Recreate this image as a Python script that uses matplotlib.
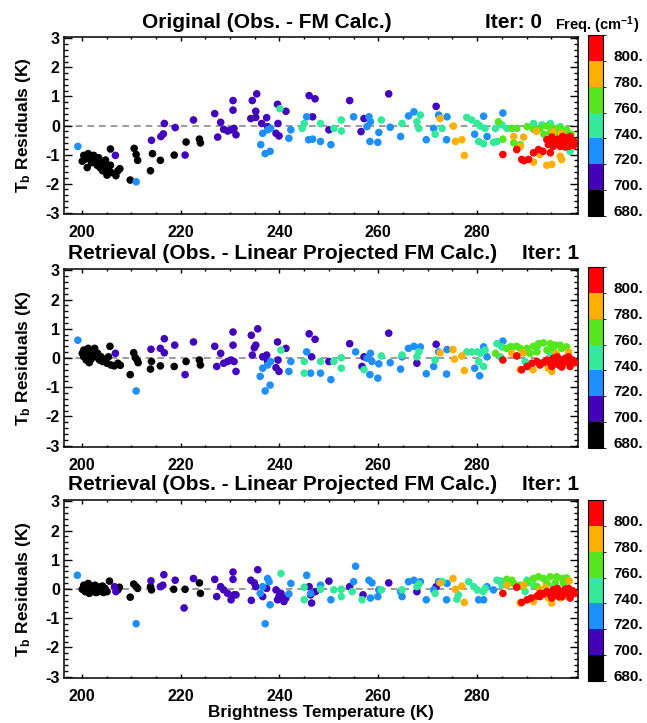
import matplotlib
matplotlib.use("Agg")
import matplotlib.pyplot as plt
from matplotlib.colors import ListedColormap, BoundaryNorm
from matplotlib.cm import ScalarMappable
from matplotlib.ticker import MultipleLocator, FixedLocator
import numpy as np

plt.rcParams['font.family'] = ['Liberation Sans', 'DejaVu Sans']
plt.rcParams['font.weight'] = 'bold'
plt.rcParams['axes.unicode_minus'] = False
plt.rcParams['mathtext.fontset'] = 'custom'
plt.rcParams['mathtext.rm'] = 'Liberation Sans:bold'
plt.rcParams['mathtext.bf'] = 'Liberation Sans:bold'
plt.rcParams['mathtext.default'] = 'bf'

# ---------------- data ----------------
FREQ_BOUNDS = [680, 700, 720, 740, 760, 780, 800, 820]
FREQ_TICKS = [680, 700, 720, 740, 760, 780, 800]
BIN_COLORS = ["#000000", "#4200bd", "#1e8fff", "#34e89c", "#55e61e", "#ffb000", "#ff0000"]
X_TICKS = [200, 220, 240, 260, 280]
Y_TICKS = [-3, -2, -1, 0, 1, 2, 3]

PANEL_TITLES = ["Original (Obs. - FM Calc.)",
                "Retrieval (Obs. - Linear Projected FM Calc.)",
                "Retrieval (Obs. - Linear Projected FM Calc.)"]
ITER_LABELS = ["Iter: 0", "Iter: 1", "Iter: 1"]

# Panel 1 : Original residuals, grouped by channel frequency (cm-1)
orig_temp = {
    690: [200.1, 200.4, 200.9, 201.3, 201.7, 202.0, 202.4, 202.8, 203.1, 203.4, 203.7, 203.9, 204.2, 204.6,
          204.8, 205.1, 205.4, 205.8, 205.9, 205.8, 206.9, 207.3, 207.7, 201.1,
          210.6, 211.0, 211.3, 209.8, 213.9, 214.3, 215.9, 218.7, 221.1, 223.8, 224.0],
    710: [206.8, 214.1, 216.0, 216.5, 216.7, 218.9, 220.9, 222.6, 226.9, 227.5, 228.1, 228.7, 229.5, 230.2,
          230.8, 231.2, 230.6, 230.6,
          234.5, 235.4, 234.2, 235.2, 235.2, 236.4, 237.4, 237.6, 239.6, 241.3, 239.3, 239.9, 239.7, 246.0,
          247.2, 246.7, 250.0,
          254.2, 262.1, 271.7, 257.1, 256.5],
    730: [199.2, 211.0, 236.2, 237.1, 238.1, 236.6, 237.6, 238.2, 242.3, 241.9, 245.5, 245.9, 246.7, 248.3, 250.4,
          255.0, 258.1, 258.4, 257.7, 258.3, 259.9, 260.1, 262.4, 264.5, 266.1, 267.2, 269.7, 271.2, 272.2,
          273.9, 273.8, 279.5, 281.3, 282.0, 285.2],
    750: [240.1, 245.0, 244.6, 248.3, 251.0, 252.5, 252.5, 260.6, 264.8, 267.8, 268.2, 268.5, 271.5, 272.9,
          277.9, 278.9, 280.0, 280.6, 281.6, 280.3, 281.3, 283.7, 285.0, 283.3, 284.0, 286.0,
          291.4, 293.1, 294.8, 296.8, 298.8],
    770: [284.3, 285.2, 287.0, 288.0, 290.1, 291.4, 292.7, 294.1, 295.4, 296.8, 298.1, 287.4, 288.7, 293.5,
          294.8, 296.2, 297.6, 299.0],
    790: [272.5, 275.2, 275.6, 276.9, 277.4, 287.4, 288.7, 289.4, 291.4, 292.7, 294.1, 295.1, 296.8, 297.1,
          292.0, 295.4, 297.1],
    810: [285.2, 288.0, 289.0, 289.5, 290.4, 291.4, 292.4, 293.3, 294.8,
          294.1, 294.8, 295.1, 295.8, 296.2, 296.7, 297.1, 297.6, 298.1, 298.7, 299.1, 299.6, 295.4, 296.8,
          297.8, 298.5, 294.4, 297.3, 298.8, 299.5],
}
orig_resid = {
    690: [-1.23, -1.03, -1.15, -0.97, -1.11, -1.28, -1.03, -1.23, -1.37, -1.11, -1.45, -1.28, -1.56, -1.40,
          -1.19, -1.71, -1.51, -1.37, -1.62, -0.81, -1.73, -1.56, -1.49, -1.45,
          -0.79, -1.00, -1.20, -1.88, -1.56, -0.97, -1.20, -1.02, -0.57, -0.47, -0.60],
    710: [-1.03, -0.51, -0.38, -0.29, 0.07, -0.07, -1.02, 0.19, 0.41, -0.40, 0.11, -0.13, -0.19, -0.15,
          -0.10, -0.32, 0.86, 0.53,
          0.86, 1.09, 0.24, 0.28, 0.49, 0.07, 0.27, -0.04, 0.73, 0.49, -0.27, -0.36, 0.07, 1.03,
          0.92, 0.30, -0.15,
          0.86, 1.09, 0.66, 0.24, -0.21],
    730: [-0.72, -1.94, -0.66, -0.97, -0.89, -0.27, -0.15, -0.10, -0.15, -0.44, 0.30, -0.49, -0.47, -0.55, -0.66,
          0.30, 0.30, 0.13, -0.04, -0.55, -0.58, -0.24, -0.06, -0.38, 0.33, 0.47, -0.49, -0.10, 0.36,
          0.30, -0.49, -0.30, 0.32, -0.38, 0.43],
    750: [0.58, 0.07, -0.10, 0.07, -0.10, 0.19, -0.19, 0.19, 0.07, 0.13, -0.10, 0.36, -0.30, -0.10,
          0.28, 0.19, 0.07, -0.02, -0.10, -0.55, -0.63, -0.10, 0.02, -0.58, -0.55, -0.10,
          0.07, 0.02, 0.07, -0.04, -0.89],
    770: [0.13, -0.47, -0.10, -0.10, -0.04, -0.13, -0.10, -0.02, -0.10, -0.10, -0.15, -0.60, -0.66, -0.30,
          -0.25, -0.22, -0.25, -0.30],
    790: [0.24, -0.02, -0.55, -0.49, -1.03, -0.38, -0.72, -0.40, -1.26, -1.00, -1.37, -1.34, -1.06, -1.17,
          -0.20, -0.22, -0.27],
    810: [-1.00, -0.83, -1.17, -1.21, -1.17, -0.94, -0.83, -0.89, -0.94,
          -0.49, -0.58, -0.40, -0.55, -0.47, -0.63, -0.49, -0.58, -0.44, -0.63, -0.49, -0.55, -0.72, -0.72,
          -0.74, -0.72, -0.66, -0.38, -0.38, -0.69],
}

# Panel 2 : Retrieval residuals
ret1_temp = {
    690: [200.1, 200.4, 200.7, 201.1, 201.3, 201.7, 201.9, 202.2, 202.6, 202.9, 203.2, 203.6, 203.9, 204.2,
          204.7, 205.1, 205.4, 205.7, 205.9, 206.6, 207.3, 207.8, 200.9, 201.5, 200.4,
          209.8, 210.5, 210.8, 211.2, 211.4, 214.1, 213.9, 215.9, 218.7, 221.1, 223.8, 224.0],
    710: [206.8, 214.0, 216.7, 215.9, 216.7, 218.8, 220.9, 222.6, 226.9, 227.3, 228.1, 228.7, 229.5, 230.2,
          230.8, 231.2, 230.6, 230.6,
          234.3, 235.6, 234.9, 235.2, 234.5, 236.6, 237.4, 237.6, 239.6, 241.3, 239.3, 239.9, 239.7, 246.0,
          247.2, 246.5, 250.0,
          254.2, 262.1, 271.7, 257.1, 256.7, 267.8],
    730: [199.2, 211.0, 236.1, 237.1, 238.1, 236.6, 237.6, 238.2, 242.3, 241.9, 245.5, 246.3, 248.3, 250.4,
          255.4, 258.4, 258.7, 257.7, 258.3, 259.9, 260.1, 262.4, 264.5, 264.8, 266.1, 267.2, 268.5, 269.7,
          271.2, 272.2, 273.9, 273.8, 279.5, 280.5, 281.3, 282.0, 285.2],
    750: [240.3, 245.0, 245.0, 248.3, 251.0, 252.5, 252.5, 260.6, 257.1, 264.8, 267.8, 268.2, 271.5, 277.9,
          278.9, 280.0, 280.6, 281.6, 280.3, 281.3, 284.0, 285.0, 284.7,
          289.7, 292.1, 294.8],
    770: [283.7, 286.0, 286.7, 287.0, 288.0, 288.7, 290.1, 291.4, 292.4, 293.4, 294.8, 295.8, 296.8, 298.1,
          289.4, 290.7, 292.1, 294.1, 295.4, 297.1],
    790: [272.5, 275.1, 275.4, 276.9, 277.4, 287.0, 288.7, 289.2, 291.3, 292.7, 294.4, 295.1, 296.8, 297.5,
          298.5, 296.0],
    810: [285.2, 288.0, 289.0, 290.1, 291.1, 292.1,
          292.7, 293.4, 294.1, 294.8, 295.4, 295.8, 296.2, 296.8, 297.3, 297.8, 298.3, 298.8, 299.3, 299.8,
          295.1, 297.1, 298.5, 296.5],
}
ret1_resid = {
    690: [0.16, 0.27, 0.04, 0.21, 0.33, 0.10, -0.04, 0.21, 0.33, 0.04, 0.16, -0.07, 0.04, -0.12,
          -0.07, -0.18, 0.04, 0.40, -0.24, -0.27, -0.18, -0.25, -0.07, -0.16, 0.04,
          -0.57, 0.18, 0.02, -0.07, -0.16, -0.12, -0.38, -0.27, -0.29, -0.12, -0.07, -0.24],
    710: [0.16, 0.30, 0.66, 0.33, 0.18, 0.44, -0.57, 0.55, 0.40, -0.29, 0.16, -0.18, -0.12, -0.07,
          -0.12, -0.46, 0.89, 0.44,
          0.78, 1.00, 0.35, 0.44, 0.10, 0.04, 0.10, -0.12, 0.55, 0.33, -0.33, -0.46, -0.07, 0.83,
          0.64, 0.04, -0.12,
          0.49, 0.85, 0.47, 0.04, -0.29, -0.18],
    730: [0.61, -1.13, -0.63, -1.13, -0.93, -0.35, -0.24, -0.12, -0.12, -0.46, 0.21, -0.52, -0.52, -0.74,
          0.21, 0.16, -0.12, -0.01, -0.57, -0.69, -0.20, -0.16, -0.38, 0.04, 0.33, 0.40, 0.38, -0.54,
          -0.29, 0.21, 0.29, -0.55, -0.35, -0.61, 0.38, 0.04, 0.58],
    750: [0.27, -0.12, -0.52, -0.12, -0.12, 0.01, -0.35, 0.07, -0.40, 0.10, 0.04, 0.21, -0.07, 0.21,
          0.21, 0.21, 0.16, 0.27, -0.12, -0.29, 0.49, 0.38, 0.04,
          -0.12, 0.38, 0.16],
    770: [0.16, 0.33, 0.38, 0.38, 0.40, 0.33, 0.33, 0.40, 0.49, 0.52, 0.49, 0.44, 0.44, 0.38,
          0.18, 0.16, 0.21, 0.27, 0.33, 0.33],
    790: [0.18, 0.29, -0.04, 0.07, -0.43, 0.16, -0.40, 0.18, -0.40, -0.18, -0.35, -0.46, -0.07, -0.18,
          0.20, 0.15],
    810: [-0.07, 0.07, -0.40, -0.29, -0.18, -0.12,
          -0.24, -0.16, -0.07, -0.18, -0.01, -0.12, 0.04, -0.07, -0.18, -0.01, -0.12, -0.29, -0.07, -0.16,
          -0.29, -0.31, 0.04, -0.24],
}

# Panel 3 : Retrieval residuals
ret2_temp = {
    690: [200.1, 200.4, 200.7, 201.1, 201.3, 201.7, 202.0, 202.4, 202.7, 203.1, 203.4, 203.8, 204.0, 204.4,
          204.7, 205.1, 200.9, 201.5, 202.9, 204.2, 205.6, 207.3, 207.6,
          209.8, 210.5, 211.0, 211.3, 213.9, 214.1, 218.6, 220.9, 223.8, 224.0],
    710: [206.6, 206.9, 214.0, 215.9, 216.6, 216.4, 218.9, 220.7, 222.6, 226.9, 227.3, 228.1, 228.7, 229.5,
          230.2, 230.8, 231.2, 230.6, 230.6,
          234.2, 235.6, 234.9, 235.2, 234.3, 236.6, 237.4, 239.3, 239.9, 239.6, 240.3, 240.9, 241.3, 246.0,
          246.5, 246.3, 250.0, 247.3,
          254.2, 256.9, 262.1, 267.8, 271.7],
    730: [199.1, 211.0, 236.1, 237.1, 238.1, 237.6, 237.9, 236.6, 242.3, 241.9, 245.5, 246.3, 248.3, 250.4,
          255.4, 255.0, 258.1, 258.7, 258.4, 259.9, 260.1, 264.5, 264.8, 266.1, 267.2, 268.5, 269.7, 271.2,
          272.2, 273.9, 273.8, 280.3, 281.3, 282.0, 283.3],
    750: [240.3, 245.0, 245.0, 248.3, 251.0, 252.5, 252.5, 254.7, 256.7, 260.6, 264.8, 267.8, 268.2, 271.5,
          272.9, 278.3, 279.3, 280.0, 281.2, 281.6, 275.9, 276.2, 284.0, 284.7, 285.0,
          289.7, 291.4, 295.4, 290.1],
    770: [286.0, 286.7, 287.0, 287.4, 288.7, 290.1, 291.4, 292.4, 293.4, 294.8, 296.1, 297.1, 298.1, 292.1,
          294.1, 295.8, 297.5],
    790: [272.5, 275.1, 275.6, 276.9, 277.4, 286.0, 288.7, 289.4, 291.4, 292.7, 294.4, 295.1, 296.8, 297.5,
          293.8, 298.6],
    810: [285.2, 288.0, 289.0, 290.1, 290.9, 292.1, 292.7,
          292.7, 293.4, 294.1, 294.8, 295.4, 295.8, 296.2, 296.8, 297.3, 297.8, 298.3, 298.8, 299.3, 299.8,
          295.1, 297.1, 298.5, 296.5],
}
ret2_resid = {
    690: [-0.01, 0.13, -0.09, 0.08, 0.19, -0.03, 0.10, -0.09, 0.13, 0.02, -0.09, 0.08, -0.03, -0.12,
          0.02, -0.09, 0.02, -0.15, -0.12, 0.10, 0.27, -0.03, 0.06,
          -0.28, 0.17, 0.08, 0.02, 0.08, -0.03, -0.01, -0.01, 0.21, -0.15],
    710: [0.08, -0.09, 0.28, 0.08, 0.49, 0.13, 0.30, -0.65, 0.36, 0.33, -0.26, 0.08, -0.03, -0.15,
          -0.37, -0.20, -0.20, 0.58, 0.33,
          0.30, 0.66, 0.21, 0.08, -0.39, -0.26, 0.02, -0.03, -0.26, -0.37, -0.15, -0.43, -0.31, 0.08,
          -0.48, -0.20, 0.27, -0.09,
          0.08, -0.20, 0.21, -0.09, 0.08],
    730: [0.47, -1.19, -0.15, -1.19, -0.54, 0.36, 0.25, 0.08, 0.19, -0.17, 0.47, -0.15, 0.13, -0.37,
          0.78, 0.25, 0.30, 0.21, -0.31, -0.26, -0.03, -0.09, -0.26, 0.25, 0.30, 0.25, -0.37, -0.03,
          0.25, 0.19, -0.37, -0.37, -0.37, 0.08, -0.03],
    750: [0.53, 0.06, -0.37, -0.01, -0.03, -0.01, -0.26, -0.09, -0.37, -0.03, -0.03, 0.08, 0.17, -0.15,
          0.25, 0.25, 0.08, -0.03, -0.09, 0.02, -0.35, -0.20, 0.30, 0.28, 0.13,
          -0.09, 0.13, 0.08, 0.30],
    770: [0.33, 0.25, 0.30, 0.19, 0.13, 0.21, 0.36, 0.42, 0.36, 0.42, 0.42, 0.36, 0.38, 0.08,
          0.19, 0.21, 0.19],
    790: [0.21, 0.36, -0.01, 0.10, -0.46, 0.13, -0.48, 0.13, -0.43, -0.03, -0.31, -0.48, -0.31, -0.26,
          0.05, 0.28],
    810: [-0.15, 0.06, -0.46, -0.37, -0.31, -0.24, -0.15,
          -0.26, -0.17, -0.09, -0.20, -0.03, -0.15, 0.02, -0.09, -0.20, -0.01, -0.12, -0.31, -0.06, -0.15,
          -0.31, -0.26, 0.02, -0.26],
}

PANELS = [(orig_temp, orig_resid), (ret1_temp, ret1_resid), (ret2_temp, ret2_resid)]

# ---------------- layout (pixels) ----------------
W, H = 647, 723
AX_X = (64, 578)
AX_Y = [(37, 214), (269, 447), (500, 678)]
CB_X = (588, 603)
CB_Y = [(35, 216), (267, 448), (500, 681)]
TITLE_POS = [(142, 28), (68, 259), (68, 490)]
ITER_POS = [(485, 28), (522, 259), (522, 490)]


def rect(x0, x1, y0, y1):
    return [x0 / W, 1 - y1 / H, (x1 - x0) / W, (y1 - y0) / H]


cmap = ListedColormap(BIN_COLORS)
norm = BoundaryNorm(FREQ_BOUNDS, cmap.N)

fig = plt.figure(figsize=(W / 100, H / 100), dpi=100)

for i, (tdict, rdict) in enumerate(PANELS):
    ax = fig.add_axes(rect(AX_X[0], AX_X[1], AX_Y[i][0], AX_Y[i][1]))
    ax.axhline(0, color='#8a8a8a', lw=1.2, ls=(0, (4, 3)), zorder=1)
    temps, resids, freqs = [], [], []
    for f in sorted(tdict):
        temps += tdict[f]
        resids += rdict[f]
        freqs += [f] * len(tdict[f])
    ax.scatter(temps, resids, c=freqs, cmap=cmap, norm=norm, s=30, linewidths=0, zorder=3)
    ax.set_xlim(196.4, 300.4)
    ax.set_ylim(-3.05, 3.05)
    ax.xaxis.set_major_locator(FixedLocator(X_TICKS))
    ax.xaxis.set_minor_locator(MultipleLocator(5))
    ax.yaxis.set_major_locator(FixedLocator(Y_TICKS))
    ax.yaxis.set_minor_locator(MultipleLocator(0.2))
    ax.tick_params(which='both', direction='in', top=True, right=True, width=1.0, colors='black')
    ax.tick_params(axis='x', which='major', length=3.0, pad=8.0, labelsize=11.5)
    ax.tick_params(axis='x', which='minor', length=1.6)
    ax.tick_params(axis='y', which='major', length=5.8, pad=3, labelsize=11.5)
    ax.tick_params(axis='y', which='minor', length=2.9)
    for lab in ax.get_xticklabels() + ax.get_yticklabels():
        lab.set_fontweight('bold')
    for sp in ax.spines.values():
        sp.set_linewidth(1.1)
    ax.set_ylabel(r"T$_b$ Residuals (K)", fontsize=12.5, fontweight='bold')
    ax.yaxis.set_label_coords(-0.060, 0.5)

    fig.text(TITLE_POS[i][0] / W, 1 - TITLE_POS[i][1] / H, PANEL_TITLES[i], fontsize=15,
             fontweight='bold', ha='left', va='baseline')
    fig.text(ITER_POS[i][0] / W, 1 - ITER_POS[i][1] / H, ITER_LABELS[i], fontsize=15,
             fontweight='bold', ha='left', va='baseline')

    cax = fig.add_axes(rect(CB_X[0], CB_X[1], CB_Y[i][0], CB_Y[i][1]))
    cb = fig.colorbar(ScalarMappable(norm=norm, cmap=cmap), cax=cax)
    cb.set_ticks([])
    cb.outline.set_linewidth(0.8)
    for v in FREQ_TICKS:
        cax.text(1.67, v + 3, f"{v}.", transform=cax.get_yaxis_transform(), ha='left',
                 va='center', fontsize=11, fontweight='bold')

fig.text(555 / W, 1 - 30 / H, r"Freq. (cm$^{-1}$)", fontsize=10.5, fontweight='bold',
         ha='left', va='baseline')
fig.text((AX_X[0] + AX_X[1]) / 2 / W, 1 - 717 / H, "Brightness Temperature (K)", fontsize=12.3,
         fontweight='bold', ha='center', va='baseline')

fig.savefig("out.png", dpi=100)
